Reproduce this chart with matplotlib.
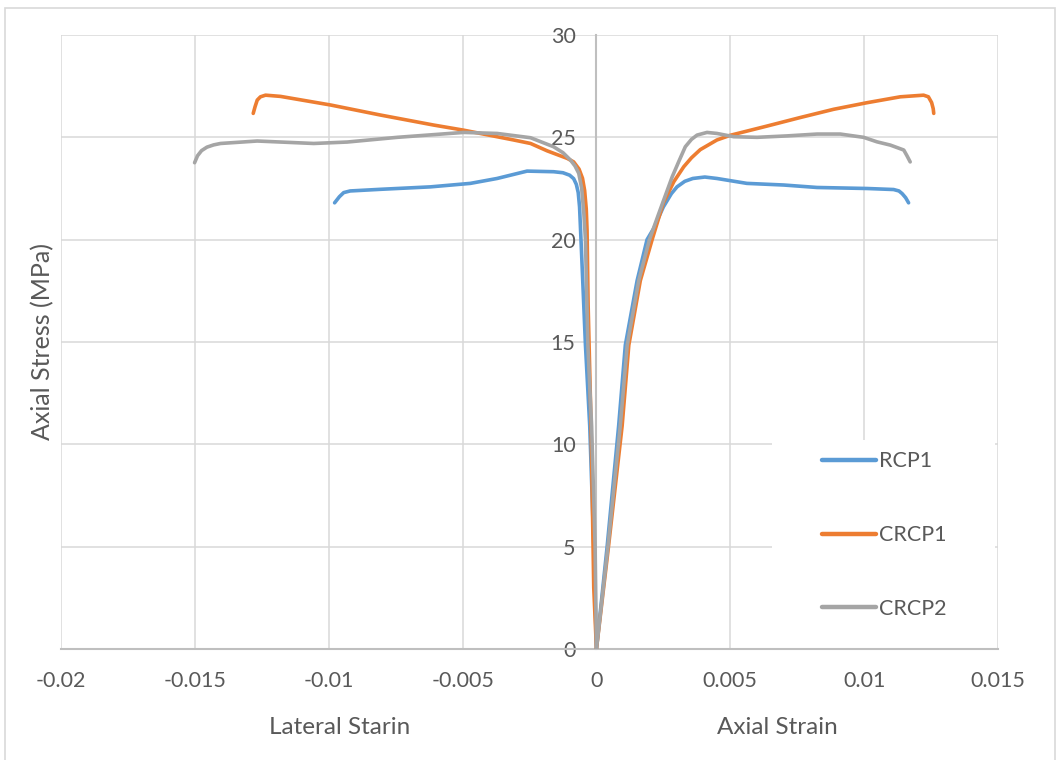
import matplotlib
matplotlib.use("Agg")
import matplotlib.pyplot as plt
from matplotlib.patches import Rectangle

plt.rcParams['font.family'] = ['Lato', 'DejaVu Sans']

# RCP1 - lateral (negative) branch down to 0, then axial branch
rcp1_x = [-0.00978, -0.0096, -0.00944, -0.0092, -0.00807, -0.0062, -0.00471, -0.00371, -0.00284,
          -0.00259, -0.0016, -0.00125, -0.00100, -0.00085, -0.00075, -0.00068, -0.00063, -0.0006,
          -0.00056, -0.00041, -0.00025, -0.0001, 0.0,
          0.0004, 0.00083, 0.00108, 0.00152, 0.00189, 0.00214, 0.0025, 0.0028, 0.00301, 0.0033,
          0.0036, 0.00405, 0.0045, 0.00562, 0.007, 0.00824, 0.01011, 0.0111, 0.0113, 0.01142,
          0.01155, 0.01166]
rcp1_y = [21.8, 22.1, 22.3, 22.38, 22.46, 22.58, 22.75, 22.99, 23.27,
          23.35, 23.32, 23.27, 23.15, 22.98, 22.7, 22.3, 21.6, 20.7,
          19.5, 14.85, 10.9, 5.08, 0.0,
          5.0, 10.9, 14.85, 18.0, 20.0, 20.55, 21.6, 22.25, 22.58, 22.85,
          22.99, 23.06, 22.99, 22.75, 22.67, 22.55, 22.5, 22.45, 22.38, 22.25,
          22.05, 21.8]

# CRCP1
crcp1_x = [-0.01282, -0.01275, -0.01267, -0.01255, -0.01236, -0.0118, -0.00993, -0.00807,
           -0.00608, -0.00496, -0.00309, -0.00246, -0.00184, -0.00109, -0.00085, -0.00065,
           -0.00052, -0.00044, -0.00038, -0.00035, -0.00031, -0.0002, -0.0001, 0.0,
           0.00045, 0.00096, 0.00121, 0.00164, 0.00208, 0.0025, 0.00289, 0.00326, 0.00355,
           0.00388, 0.0045, 0.005, 0.00637, 0.00762, 0.00886, 0.0101, 0.01135, 0.01222,
           0.0124, 0.01252, 0.01258, 0.0126]
crcp1_y = [26.17, 26.5, 26.82, 26.98, 27.06, 27.0, 26.58, 26.09,
           25.6, 25.35, 24.87, 24.7, 24.34, 23.97, 23.8, 23.45,
           23.0, 22.4, 21.5, 20.47, 16.8, 10.9, 3.0, 0.0,
           5.0, 10.9, 14.85, 18.0, 20.0, 21.8, 22.83, 23.56, 24.0,
           24.4, 24.87, 25.1, 25.55, 25.97, 26.37, 26.69, 26.98, 27.06,
           26.98, 26.7, 26.4, 26.17]

# CRCP2
crcp2_x = [-0.01501, -0.0149, -0.01475, -0.01455, -0.0143, -0.01404, -0.01267, -0.01056,
           -0.00931, -0.00744, -0.00496, -0.00371, -0.00246, -0.0016, -0.00125, -0.00097,
           -0.0008, -0.00066, -0.00055, -0.00047, -0.00041, -0.00032, -0.00018, -0.00005, 0.0,
           0.00043, 0.00089, 0.00115, 0.00158, 0.00198, 0.00233, 0.00283, 0.00307, 0.00332,
           0.00355, 0.00376, 0.00413, 0.0045, 0.00513, 0.006, 0.00712, 0.00824, 0.00911,
           0.00998, 0.01048, 0.01098, 0.01148, 0.0116, 0.01172]
crcp2_y = [23.76, 24.1, 24.35, 24.52, 24.63, 24.7, 24.82, 24.7,
           24.77, 25.0, 25.24, 25.19, 24.98, 24.54, 24.25, 23.89,
           23.6, 23.24, 22.5, 21.28, 20.0, 14.85, 10.9, 5.0, 0.0,
           5.0, 10.9, 14.85, 18.0, 20.0, 21.28, 23.07, 23.8, 24.54,
           24.9, 25.11, 25.24, 25.19, 25.03, 25.0, 25.07, 25.16, 25.16,
           25.0, 24.78, 24.62, 24.38, 24.1, 23.8]

x_ticks = [-0.02, -0.015, -0.01, -0.005, 0, 0.005, 0.01, 0.015]
x_ticklabels = ['-0.02', '-0.015', '-0.01', '-0.005', '0', '0.005', '0.01', '0.015']
y_ticks = [0, 5, 10, 15, 20, 25, 30]

txt = '#595959'
fig = plt.figure(figsize=(10.6, 7.6), dpi=100)
ax = fig.add_axes([61/1060, 1 - 649/760, 937/1060, 614/760])

# light outer frame of the chart area
fig.patches.append(Rectangle((0.005, -0.01), 0.99, 0.999, transform=fig.transFigure,
                             fill=False, edgecolor='#d9d9d9', lw=1.2))

ax.plot(rcp1_x, rcp1_y, color='#5B9BD5', lw=2.6, label='RCP1', zorder=3,
        solid_joinstyle='round', solid_capstyle='round')
ax.plot(crcp1_x, crcp1_y, color='#ED7D31', lw=2.6, label='CRCP1', zorder=3,
        solid_joinstyle='round', solid_capstyle='round')
ax.plot(crcp2_x, crcp2_y, color='#A5A5A5', lw=2.6, label='CRCP2', zorder=3,
        solid_joinstyle='round', solid_capstyle='round')

ax.set_xlim(-0.02, 0.015)
ax.set_ylim(0, 30)
ax.set_xticks(x_ticks)
ax.set_xticklabels(x_ticklabels)
ax.set_yticks(y_ticks)
ax.set_axisbelow(True)
ax.grid(True, color='#d9d9d9', lw=1.1)

ax.spines['left'].set_position(('data', 0))
for s in ['top', 'right']:
    ax.spines[s].set_visible(False)
ax.spines['left'].set_color('#bfbfbf')
ax.spines['left'].set_linewidth(1.5)
ax.spines['bottom'].set_color('#bfbfbf')
ax.spines['bottom'].set_linewidth(1.5)
ax.tick_params(axis='both', length=0, labelsize=15.5, labelcolor=txt)
ax.tick_params(axis='y', pad=15)
ax.tick_params(axis='x', pad=16)

# white box behind the legend
ax.add_patch(Rectangle((0.759, 0.002), 0.238, 0.338, transform=ax.transAxes,
                       facecolor='white', edgecolor='none', zorder=1))
leg = ax.legend(loc='upper left', bbox_to_anchor=(0.812, 0.322), frameon=False,
                fontsize=15.5, handlelength=2.5, handletextpad=0.15, labelspacing=2.5,
                borderpad=0, borderaxespad=0)
for t in leg.get_texts():
    t.set_color(txt)
for h in leg.legend_handles:
    h.set_linewidth(3.2)

fig.text(0.0406, 0.551, 'Axial Stress (MPa)', rotation=90, ha='center', va='center',
         fontsize=18, color=txt)
fig.text(0.32, 1 - 727/760, 'Lateral Starin', ha='center', va='center', fontsize=17.5, color=txt)
fig.text(0.733, 1 - 727/760, 'Axial Strain', ha='center', va='center', fontsize=17.5, color=txt)

fig.savefig('out.png', dpi=100)
